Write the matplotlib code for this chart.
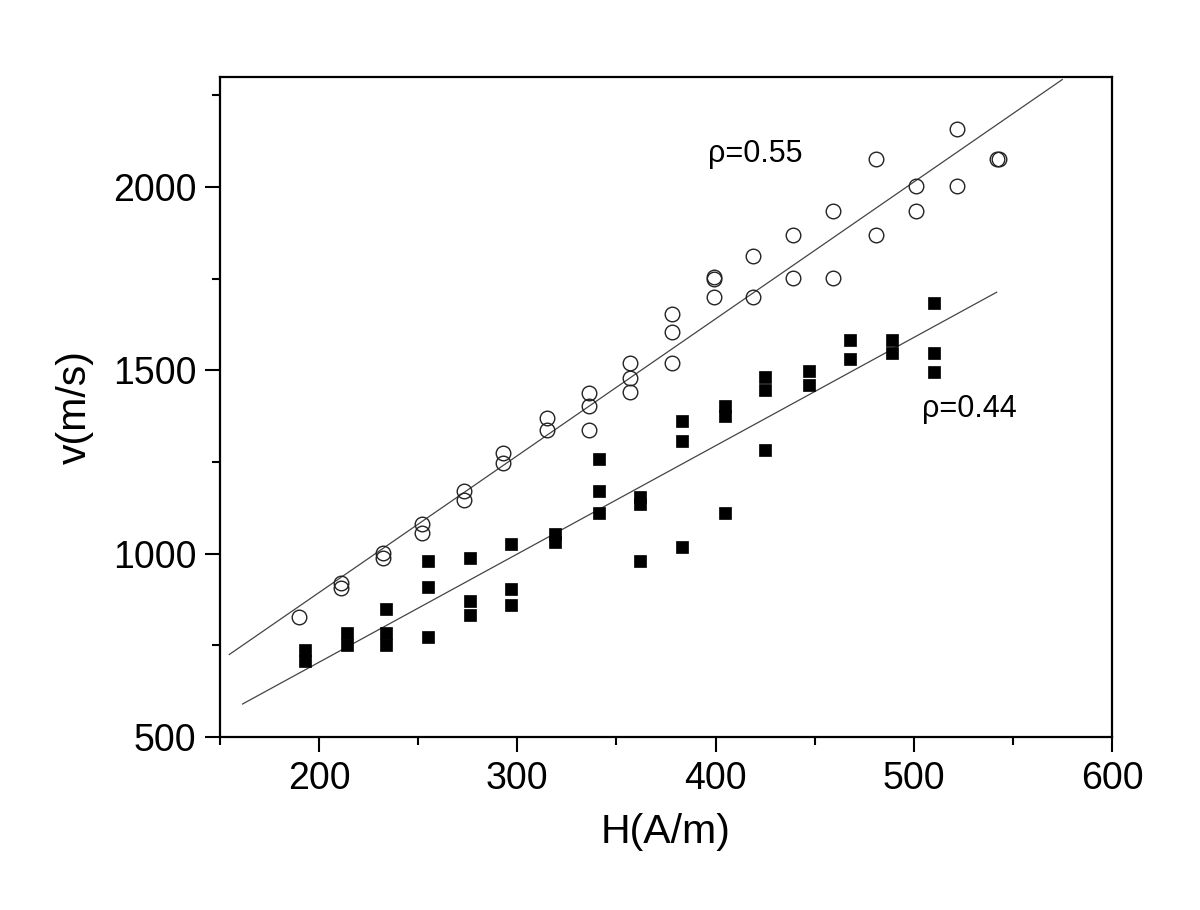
import matplotlib
matplotlib.use("Agg")
import matplotlib.pyplot as plt
from matplotlib.ticker import MultipleLocator

plt.rcParams['font.family'] = ['Liberation Sans', 'DejaVu Sans']

# open circles (rho = 0.55)
H_circ = [190, 211, 211, 232, 232, 252, 252, 273, 273, 293, 293, 315, 315,
          336, 336, 336, 357, 357, 357, 378, 378, 378, 399, 399, 399,
          419, 419, 439, 439, 459, 459, 481, 481, 501, 501, 522, 522, 542, 543]
v_circ = [826, 920, 906, 1001, 988, 1080, 1056, 1170, 1146, 1274, 1247, 1369, 1337,
          1438, 1402, 1337, 1519, 1478, 1440, 1653, 1604, 1519, 1755, 1749, 1699,
          1812, 1699, 1869, 1751, 1935, 1751, 2077, 1869, 2003, 1934, 2157, 2003, 2075, 2077]

# filled squares (rho = 0.44)
H_sq = [193, 193, 214, 214, 234, 234, 234, 255, 255, 255, 276, 276, 276,
        297, 297, 297, 319, 319, 341, 341, 341, 362, 362, 362, 383, 383, 383,
        405, 405, 405, 425, 425, 425, 447, 447, 468, 468, 489, 489, 510, 510, 510]
v_sq = [736, 707, 785, 750, 848, 785, 750, 981, 908, 772, 989, 870, 834,
        1027, 905, 859, 1054, 1033, 1258, 1171, 1111, 1155, 1136, 981, 1361, 1307, 1019,
        1402, 1375, 1111, 1481, 1446, 1283, 1497, 1459, 1584, 1530, 1582, 1546, 1683, 1547, 1495]

# fitted lines (end points)
fit_circ_H = [154.7, 574.9]
fit_circ_v = [725, 2293]
fit_sq_H = [161.4, 541.8]
fit_sq_v = [590, 1713]

labels = ["\u03c1=0.55", "\u03c1=0.44"]

fig = plt.figure(figsize=(12, 9.1), dpi=100)
ax = fig.add_axes([0.1833, 0.1901, 0.7434, 0.7253])

ax.plot(fit_circ_H, fit_circ_v, color='#444444', lw=0.9, zorder=2)
ax.plot(fit_sq_H, fit_sq_v, color='#444444', lw=0.9, zorder=2)
ax.plot(H_circ, v_circ, linestyle='none', marker='o', markersize=10.5,
        markerfacecolor='none', markeredgecolor='#222222', markeredgewidth=1.0, zorder=3)
ax.plot(H_sq, v_sq, linestyle='none', marker='s', markersize=9.3,
        markerfacecolor='black', markeredgecolor='black', markeredgewidth=0.5, zorder=3)

ax.text(396, 2090, labels[0], fontsize=22, ha='left', va='center')
ax.text(504, 1394, labels[1], fontsize=22, ha='left', va='center')

ax.set_xlim(150, 600)
ax.set_ylim(500, 2300)
ax.xaxis.set_major_locator(MultipleLocator(100))
ax.xaxis.set_minor_locator(MultipleLocator(50))
ax.yaxis.set_major_locator(MultipleLocator(500))
ax.yaxis.set_minor_locator(MultipleLocator(250))

ax.tick_params(which='major', direction='out', length=11, width=1.5, labelsize=27, pad=6)
ax.tick_params(which='minor', direction='out', length=6, width=1.5)
ax.tick_params(top=False, right=False)
for s in ax.spines.values():
    s.set_linewidth(1.6)

ax.set_xlabel("H(A/m)", fontsize=29.5, labelpad=12)
ax.set_ylabel("v(m/s)", fontsize=29.5, labelpad=14)

fig.savefig("out.png", dpi=100)
